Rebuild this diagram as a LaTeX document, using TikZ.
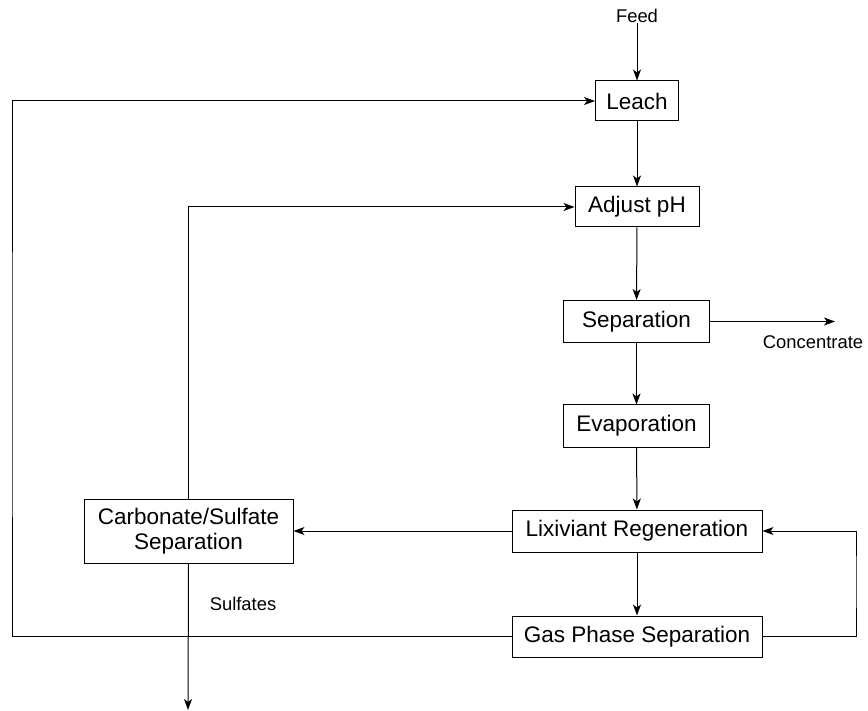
\documentclass[tikz,border=0pt]{standalone}
\usepackage{fontspec}
\setmainfont{Liberation Sans}
\usetikzlibrary{arrows.meta}
\begin{document}
\begin{tikzpicture}[x=1pt,y=-1pt,
  box/.style={draw, line width=1pt, inner sep=0pt, align=center,
    font=\fontsize{22.5}{25}\selectfont},
  lbl/.style={inner sep=0pt, font=\fontsize{18.4}{21}\selectfont},
  arr/.style={line width=1pt, -{Stealth[length=11pt,width=8pt,inset=3pt]}}]
\useasboundingbox (0,0) rectangle (868,711);
\node[lbl] (feed) at (637,16) {Feed};
\node[box, minimum width=83pt, minimum height=40pt] (leach) at (637,101) {Leach};
\node[box, minimum width=124pt, minimum height=40pt] (adjust) at (637,207) {Adjust pH};
\node[box, minimum width=146pt, minimum height=42pt] (sep) at (636.5,321.5) {Separation};
\node[box, minimum width=146pt, minimum height=42pt] (evap) at (636.5,426) {Evaporation};
\node[box, minimum width=250pt, minimum height=42pt] (lix) at (637,531) {Lixiviant Regeneration};
\node[box, minimum width=250pt, minimum height=41pt] (gas) at (637,636.5) {Gas Phase Separation};
\node[box, minimum width=209pt, minimum height=64pt] (carb) at (188.5,531) {Carbonate/Sulfate\\Separation};
\node[lbl] (conc) at (813,342) {Concentrate};
\node[lbl] (sulf) at (243,604) {Sulfates};
\coordinate (concend) at (835,321.5);
\coordinate (cl) at (12,400);
\coordinate (cr) at (856,580);
\coordinate (sulfend) at (188,710);
\draw[arr] (feed) -- (leach);
\draw[arr] (leach) -- (adjust);
\draw[arr] (adjust) -- (sep);
\draw[arr] (sep) -- (evap);
\draw[arr] (evap) -- (lix);
\draw[arr] (lix) -- (gas);
\draw[arr] (lix.west) -- (carb.east);
\draw[arr] (sep.east) -- (concend);
\draw[arr] (gas.west) -| (cl) |- (leach.west);
\draw[arr] (carb.north) |- (adjust.west);
\draw[arr] (gas.east) -| (cr) |- (lix.east);
\draw[arr] (carb.south) -- (sulfend);
\end{tikzpicture}
\end{document}
